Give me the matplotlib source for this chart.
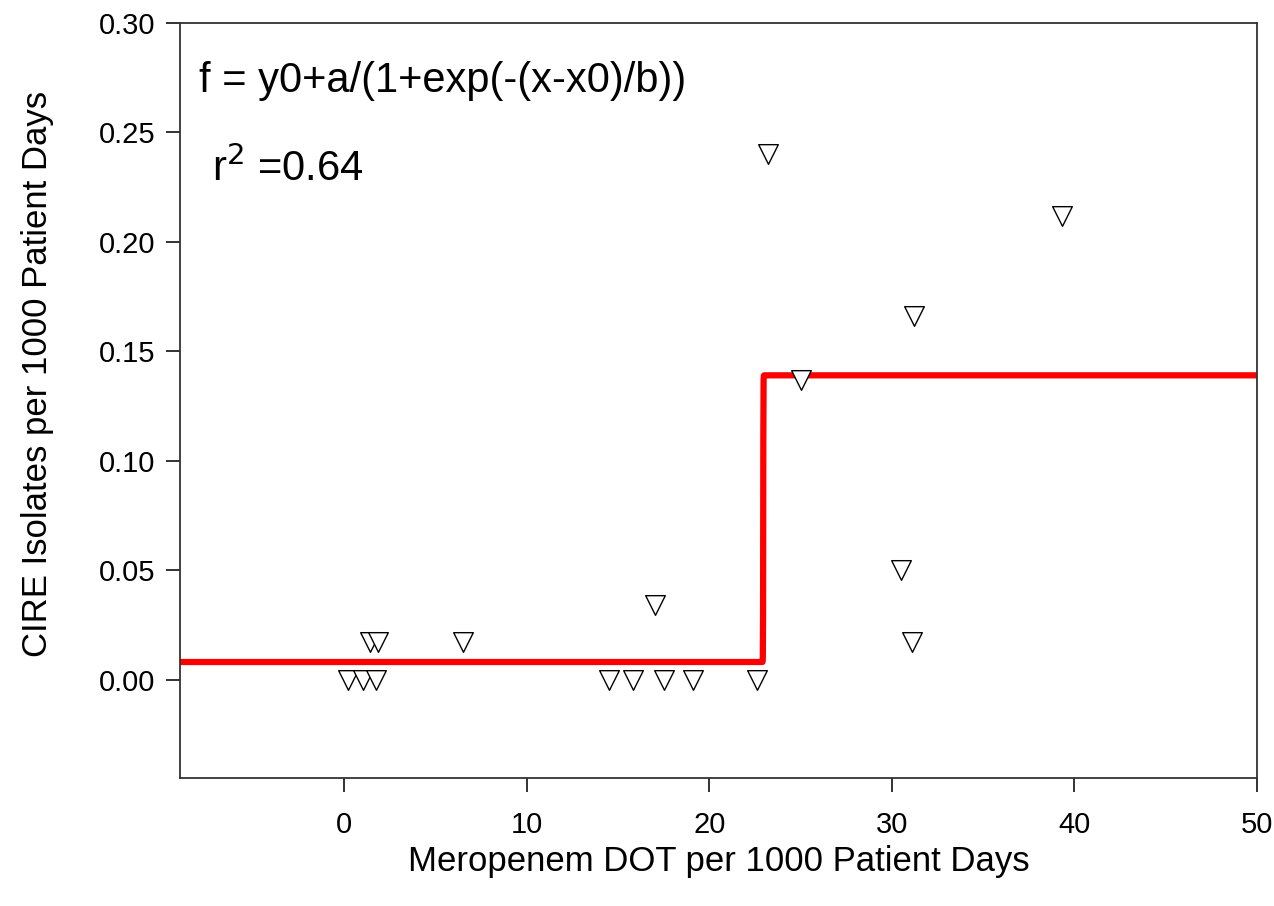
import numpy as np
import matplotlib.pyplot as plt

plt.rcParams['font.family'] = ['Liberation Sans', 'DejaVu Sans']

# meropenem DOT vs CIRE isolates, per 1000 patient days
dot = [0.2, 1.0, 1.75, 1.4, 1.85, 6.5, 14.5, 15.8, 17.5, 19.1, 17.0,
       22.6, 23.2, 25.0, 30.5, 31.1, 31.2, 39.3]
cire = [0.0, 0.0, 0.0, 0.017, 0.017, 0.017, 0.0, 0.0, 0.0, 0.0, 0.034,
        0.0, 0.240, 0.137, 0.050, 0.017, 0.166, 0.212]

# sigmoid fit parameters
y0 = 0.008
a = 0.131
x0 = 22.95
b = 0.005

xs = np.linspace(-9, 50, 4000)
fit = y0 + a / (1 + np.exp(-(xs - x0) / b))

fig = plt.figure(figsize=(12.74, 9.06), dpi=100)
ax = fig.add_axes([180/1274, 1 - 778/906, (1257-180)/1274, (778-23)/906])

ax.plot(xs, fit, color='red', lw=4.5, solid_capstyle='butt', zorder=2)
ax.scatter(dot, cire, marker='v', s=200, facecolor='white', edgecolor='black',
           linewidths=1.0, zorder=3)

ax.set_xlim(-9, 50)
ax.set_ylim(-0.045, 0.30)
ax.set_xticks([0, 10, 20, 30, 40, 50])
ax.set_yticks([0, 0.05, 0.10, 0.15, 0.20, 0.25, 0.30])
ax.set_yticklabels(['0.00', '0.05', '0.10', '0.15', '0.20', '0.25', '0.30'])
ax.tick_params(direction='out', length=10, width=1.3, labelsize=21, pad=8,
               colors='#222222', labelcolor='black')
ax.tick_params(axis='x', pad=14)
for s in ax.spines.values():
    s.set_linewidth(1.3)
    s.set_color('#333333')

ax.set_xlabel('Meropenem DOT per 1000 Patient Days', fontsize=25, labelpad=4)
ax.set_ylabel('CIRE Isolates per 1000 Patient Days', fontsize=25, labelpad=32)
ax.yaxis.label.set_y(0.535)

ax.text(0.018, 0.95, 'f = y0+a/(1+exp(-(x-x0)/b))', transform=ax.transAxes,
        fontsize=30, va='top', ha='left')
ax.text(0.03, 0.835, r'r$^2$ =0.64', transform=ax.transAxes,
        fontsize=30, va='top', ha='left')

fig.savefig('out.png', dpi=100)
